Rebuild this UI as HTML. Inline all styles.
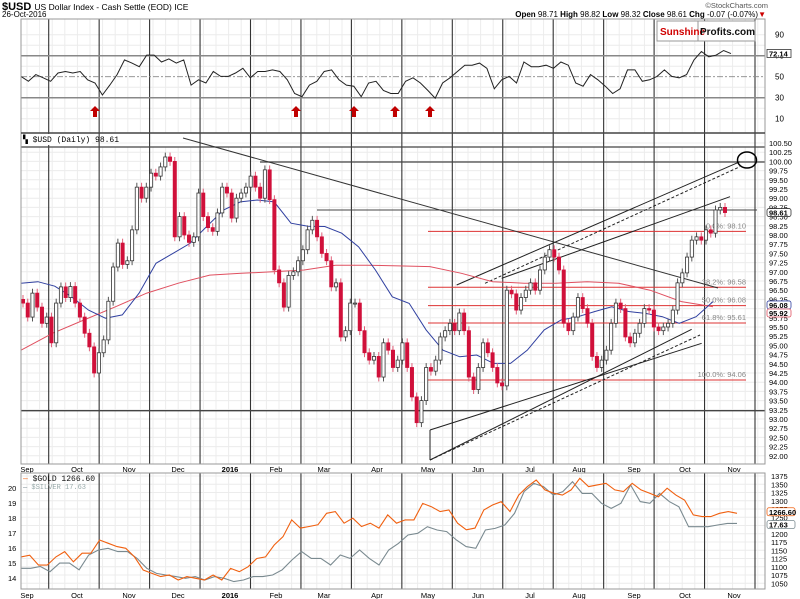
<!DOCTYPE html>
<html><head><meta charset="utf-8"><style>
html,body{margin:0;padding:0;background:#fff;}
svg{display:block;font-family:"Liberation Sans",sans-serif;}
</style></head><body>
<svg id="c" width="800" height="599" viewBox="0 0 800 599" xmlns="http://www.w3.org/2000/svg">
<rect x="0" y="0" width="800" height="599" fill="#fff"/>
<g id="grid"></g>
<g id="rsi"></g>
<g id="main"></g>
<g id="bot"></g>
<g id="frames"></g>
<g id="hdr">
<text x="2" y="10" font-size="11" font-weight="bold">$USD <tspan font-size="8.5" font-weight="normal">US Dollar Index - Cash Settle (EOD) ICE</tspan></text>
<text x="2" y="17" font-size="8">26-Oct-2016</text>
<text x="768" y="8" font-size="7.5" fill="#555" text-anchor="end">©StockCharts.com</text>
<text x="766" y="17" font-size="8" text-anchor="end"><tspan font-weight="bold">Open</tspan> 98.71 <tspan font-weight="bold">High</tspan> 98.82 <tspan font-weight="bold">Low</tspan> 98.32 <tspan font-weight="bold">Close</tspan> 98.61 <tspan font-weight="bold">Chg</tspan> -0.07 (-0.07%)<tspan fill="#c00">▼</tspan></text>
</g>
</svg>
<script>
// ---- data ----
const usdClose=[96.15,95.77,96.42,96.04,95.6,95.77,95.07,96.15,96.59,96.3,96.6,96.15,95.77,95.33,94.96,94.25,94.8,95.15,96.2,97.13,97.78,97.2,97.3,98.14,99.3,99.0,99.3,99.68,99.6,99.85,100.12,100.0,97.95,98.5,98.0,97.8,97.95,99.14,98.5,98.2,98.1,98.6,99.3,99.14,98.46,99.0,99.14,99.3,99.6,99.3,99.0,99.77,98.96,97.05,96.7,96.04,96.9,97.0,97.3,97.6,98.14,98.4,97.95,97.5,97.3,96.59,96.7,95.23,95.4,96.15,96.15,95.4,94.8,94.6,94.7,94.14,95.07,
94.87,94.4,94.6,95.07,94.4,93.6,92.9,93.5,94.4,94.3,94.6,95.23,95.4,95.6,95.4,95.88,95.4,94.14,93.8,94.4,95.07,94.8,94.4,93.98,93.9,96.5,96.4,95.96,96.3,96.5,96.7,96.5,97.05,97.4,97.6,97.4,97.05,95.6,95.4,95.77,96.3,96.0,95.6,94.7,94.4,94.6,94.87,95.6,96.15,96.0,95.23,95.07,95.33,95.6,96.0,95.96,95.5,95.4,95.5,95.6,95.96,96.7,96.97,97.4,97.86,97.95,97.86,98.14,98.05,98.68,98.75,98.61];
const ma50=[96.69,96.73,96.61,96.32,95.96,95.74,95.83,96.42,97.23,97.5,97.77,98.23,98.68,98.9,98.95,98.9,98.32,98.24,98.23,98.05,97.68,97.05,96.32,96.14,95.42,94.87,94.69,94.74,94.51,94.51,94.87,95.42,95.69,95.78,95.92,96.05,95.92,95.87,95.78,95.6,95.78,96.19];
const ma200=[94.87,95.33,95.69,96.05,96.42,96.69,96.91,96.96,97.0,97.05,97.18,97.18,97.16,97.14,96.96,96.73,96.69,96.69,96.73,96.69,96.5,96.19,96.05];
const fibLevels=[98.10,96.58,96.08,95.61,94.06];
const fibNames=["0.0%","38.2%","50.0%","61.8%","100.0%"];
const rsiVals=[50.3,45.6,52,49,45.6,53.5,55,53.5,55,47,44,32.6,42,52,66,63,59.5,70.6,70.6,64,67,63,66,42,47,44,55,50.3,50.3,53.5,58,49,55,55,56.5,55,47,34,31,42,45.6,55,56.5,47,42,41,31,44,45.6,37,34,34,45.6,49,44,37,29.5,44,49,55,61,61,63,58,38.5,47,50.3,44,64,59.5,59.5,61,58,64,61,44,41,52,47,41,34,38.5,56.5,56.5,45.6,47,50.3,56.5,50.3,49,52,66,74,69,70.6,75,72];
const goldVals=[1130,1135,1105,1105,1130,1146,1115,1141,1141,1181,1171,1161,1156,1130,1090,1080,1070,1075,1060,1070,1065,1060,1075,1060,1095,1085,1100,1125,1130,1166,1191,1242,1217,1222,1227,1262,1267,1232,1247,1222,1232,1217,1257,1232,1242,1242,1292,1282,1267,1272,1232,1212,1217,1272,1287,1297,1267,1317,1343,1363,1333,1323,1317,1333,1368,1343,1348,1353,1333,1328,1353,1333,1323,1312,1338,1317,1302,1257,1252,1252,1262,1267,1262];
const silverVals=[14.65,14.65,14.77,14.42,14.99,14.99,14.55,15.53,15.87,15.98,15.76,15.76,15.31,14.65,14.31,14.2,14.09,13.98,14.09,13.87,14.09,13.98,13.76,13.87,14.09,14.09,14.2,14.55,15.2,15.76,15.31,15.31,14.87,15.53,15.31,15.87,15.31,14.87,15.87,16.31,16.87,16.98,17.42,17.2,17.09,16.53,16.09,15.98,17.2,17.31,17.53,18.31,19.76,20.31,20.09,19.53,19.76,20.42,19.64,19.64,18.98,18.64,18.98,20.2,19.09,18.98,19.64,19.09,18.75,17.42,17.42,17.42,17.53,17.64,17.64];
const monthLabels=["Sep","Oct","Nov","Dec","2016","Feb","Mar","Apr","May","Jun","Jul","Aug","Sep","Oct","Nov"];
const priceTicks=["100.50","100.25","100.00","99.75","99.50","99.25","99.00","98.75","98.50","98.25","98.00","97.75","97.50","97.25","97.00","96.75","96.50","96.25","96.00","95.75","95.50","95.25","95.00","94.75","94.50","94.25","94.00","93.75","93.50","93.25","93.00","92.75","92.50","92.25","92.00"];
const goldTicks=[1375,1350,1325,1300,1275,1250,1225,1200,1175,1150,1125,1100,1075,1050];
const silverTicks=[20,19,18,17,16,15,14];
const rsiTicks=[90,70,50,30,10];
const arrowIdx=[11,38,46,56,56];
// ---- scales ----
const L=21,R=765;
const yP=v=>143+(100.5-v)*36.8;
const yG=v=>476+(1375-v)*0.33;
const yS=v=>488+(20-v)*15;
const yR=v=>97.7-(v-30)*1.05;
const xSeries=(i,n,x0,x1)=>x0+i*(x1-x0)/(n-1);
const xMonth=[27,77,129,178,230,276,324,377,428,478,530,579,634,685,734];
const NS="http://www.w3.org/2000/svg";
function mk(p,t,a){const e=document.createElementNS(NS,t);for(const k in a)e.setAttribute(k,a[k]);p.appendChild(e);return e;}
const G=id=>document.getElementById(id);
const grid=G('grid'),rsi=G('rsi'),main=G('main'),bot=G('bot'),fr=G('frames');
// light grid
for(let x=L+6;x<R;x+=12.6){for(const [a,b] of [[19,133],[147,464],[473,589]]){const l=mk(grid,'line',{x1:x,x2:x,y1:a,y2:b,stroke:'#ececec','stroke-width':1});}}
priceTicks.forEach(t=>{const l=mk(grid,'line',{x1:L,x2:R,y1:yP(+t),y2:yP(+t),stroke:'#ececec'});});
goldTicks.forEach(t=>{const l=mk(grid,'line',{x1:L,x2:R,y1:yG(t),y2:yG(t),stroke:'#ececec'});});
[90,80,60,40,20,10].forEach(t=>{const l=mk(grid,'line',{x1:L,x2:R,y1:yR(t),y2:yR(t),stroke:'#ececec'});});
// cycle verticals
for(let k=0;k<15;k++){const x=48.7+k*50.45;for(const [a,b] of [[19,133],[133,464],[473,589]]){const l=mk(grid,'line',{x1:x,x2:x,y1:a,y2:b,stroke:'#333','stroke-width':1.1});}}
// RSI
[[70,'#888',1.5,''],[30,'#888',1.5,''],[50,'#888',0.8,'6,2,2,2']].forEach(([v,c,w,d])=>{const l=mk(rsi,'line',{x1:L,x2:R,y1:yR(v),y2:yR(v),stroke:c,'stroke-width':w,'stroke-dasharray':d});});
let pts=rsiVals.map((v,i)=>xSeries(i,rsiVals.length,21,731).toFixed(1)+','+yR(v).toFixed(1)).join(' ');
let pl=mk(rsi,'polyline',{points:pts,fill:'none',stroke:'#222','stroke-width':1});

rsiTicks.forEach(t=>{const e=mk(rsi,'text',{x:775,y:yR(t)+3,'font-size':8});e.textContent=t;});
let rb=mk(rsi,'rect',{x:767,y:yR(72.14)-4,width:24,height:8,fill:'#fff',stroke:'#333','stroke-width':0.8});

let rt=mk(rsi,'text',{x:769,y:yR(72.14)+3,'font-size':7.5,'font-weight':'bold'});rt.textContent='72.14';

[95,296,354,395,430].forEach(x=>{const p=mk(rsi,'path',{d:`M${x} 106 l5 5 h-3 v6 h-4 v-6 h-3 z`,fill:'#c00000'});});
// logo
let lg=mk(rsi,'rect',{x:657,y:21,width:98,height:20,fill:'#fff',stroke:'#999'});

let ln=mk(rsi,'line',{x1:698,x2:698,y1:21,y2:41,stroke:'#999'});
let lt=mk(rsi,'text',{x:660,y:35,'font-size':10,'font-weight':'bold',fill:'#d00000'});lt.textContent='Sunshine';

let lt2=mk(rsi,'text',{x:700,y:35,'font-size':10,'font-weight':'bold',fill:'#111'});lt2.textContent='Profits.com';

// main panel annotations
function line(p,x1,y1,x2,y2,st,w,d,name){const l=mk(p,'line',{x1,y1,x2,y2,stroke:st,'stroke-width':w||1,'stroke-dasharray':d||''});return l;}
line(main,L,147,R,147,'#444',1.3,'','resistance-line-top');
line(main,260,162,R,162,'#444',1.3,'','resistance-line-100');
line(main,317,210,757,210,'#444',1,'','horizontal-line-mar-high');
line(main,L,410.7,R,410.7,'#444',1.3,'','support-line-93');
fibLevels.forEach((v,i)=>{line(main,428,yP(v),746,yP(v),'#d33',1,'','fib-line');
 const t=mk(main,'text',{x:746,y:yP(v)-3,'font-size':7.5,fill:'#888','text-anchor':'end'});t.textContent=fibNames[i]+': '+v.toFixed(2);
 });
function z5(X,Y){return [380+X/3,130+Y/3];}
[[[150,900],[965,640],''],[[150,990],[960,615],'3,2'],[[150,990],[935,598],''],[[230,465],[1080,95],''],[[315,460],[1080,110],'3,2'],[[365,445],[1050,200],''],[[150,900],[150,990],'']].forEach(([a,b,d])=>{const p=z5(...a),q=z5(...b);line(main,p[0],p[1],q[0],q[1],'#222',1,d,'trend-line');});
line(main,183,138,718,288,'#333',1,'','downtrend-line');
// MAs
let m2=mk(main,'polyline',{points:ma200.map((v,i)=>xSeries(i,ma200.length,21,713).toFixed(1)+','+yP(v).toFixed(1)).join(' '),fill:'none',stroke:'#e05060','stroke-width':1});

let m1=mk(main,'polyline',{points:ma50.map((v,i)=>xSeries(i,ma50.length,21,713).toFixed(1)+','+yP(v).toFixed(1)).join(' '),fill:'none',stroke:'#3040a0','stroke-width':1});

// candles
usdClose.forEach((c,i)=>{const o=i?usdClose[i-1]:c+0.1;const x=xSeries(i,usdClose.length,23,725);
 const hi=Math.max(o,c)+0.12,lo=Math.min(o,c)-0.12;const dn=c<o;const col=dn?'#d0103a':'#333';
 const w=mk(main,'line',{x1:x,x2:x,y1:yP(hi),y2:yP(lo),stroke:dn?'#e0607a':'#555','stroke-width':1});
 
 const b=mk(main,'rect',{x:x-1.6,y:Math.min(yP(o),yP(c)),width:3.2,height:Math.max(1,Math.abs(yP(o)-yP(c))),fill:dn?'#d0103a':'#fff',stroke:col,'stroke-width':0.8});
 });
let ci=mk(main,'ellipse',{cx:747,cy:160,rx:9.5,ry:8,fill:'none',stroke:'#000','stroke-width':1.5});

priceTicks.forEach(t=>{const e=mk(main,'text',{x:769,y:yP(+t)+3,'font-size':7.5});e.textContent=t;});
[[98.61,'#333','98.61'],[96.1,'#3040a0','96.08'],[95.88,'#e05060','95.92']].forEach(([v,c,s])=>{const r=mk(main,'rect',{x:767,y:yP(v)-4,width:24,height:8,fill:'#fff',stroke:c,'stroke-width':0.8,rx:2});
 const t=mk(main,'text',{x:769,y:yP(v)+3,'font-size':7.5,'font-weight':'bold'});t.textContent=s;});
let mh=mk(main,'rect',{x:L+1,y:134,width:70,height:11,fill:'#fff'});
let mt=mk(main,'text',{x:L+2,y:142,'font-size':8,'font-family':'Liberation Mono, monospace'});mt.textContent='▚ $USD (Daily) 98.61';

monthLabels.forEach((m,i)=>{[469,595].forEach(y=>{const t=mk(main,'text',{x:xMonth[i],y:y+3,'font-size':7.5,'text-anchor':'middle','font-weight':m==='2016'?'bold':'normal'});t.textContent=m;});});
// bottom panel
let gs=mk(bot,'polyline',{points:silverVals.map((v,i)=>xSeries(i,silverVals.length,21,737).toFixed(1)+','+yS(v).toFixed(1)).join(' '),fill:'none',stroke:'#7a8a90','stroke-width':1.1});

let gg=mk(bot,'polyline',{points:goldVals.map((v,i)=>xSeries(i,goldVals.length,21,737).toFixed(1)+','+yG(v).toFixed(1)).join(' '),fill:'none',stroke:'#f06010','stroke-width':1.1});

goldTicks.forEach(t=>{const e=mk(bot,'text',{x:771,y:yG(t)+3,'font-size':7.5});e.textContent=t;});
silverTicks.forEach(t=>{const e=mk(bot,'text',{x:8,y:yS(t)+3,'font-size':7.5});e.textContent=t;});
[[1266.6,'#f06010','1266.60'],[1228,'#7a8a90','17.63']].forEach(([v,c,s])=>{const r=mk(bot,'rect',{x:767,y:yG(v)-4,width:28,height:8,fill:'#fff',stroke:c,'stroke-width':0.8,rx:2});
 const t=mk(bot,'text',{x:769,y:yG(v)+3,'font-size':7.5,'font-weight':'bold'});t.textContent=s;});
let lg1=mk(bot,'text',{x:L+2,y:481,'font-size':8,fill:'#111','font-family':'Liberation Mono, monospace'});lg1.innerHTML='<tspan fill="#f06010">—</tspan> $GOLD 1266.60';

let lg2=mk(bot,'text',{x:L+2,y:489,'font-size':7,fill:'#9aa','font-family':'Liberation Mono, monospace'});lg2.innerHTML='<tspan fill="#7a8a90">—</tspan> $SILVER 17.63';

// frames
[[L,19,R-L,114],[L,133,R-L,331],[L,473,R-L,116]].forEach(([x,y,w,h])=>{const r=mk(fr,'rect',{x,y,width:w,height:h,fill:'none',stroke:'#999','stroke-width':1});});
line(fr,L,133,R,133,'#444',1.5,'','panel-separator');
</script>
</body></html>
